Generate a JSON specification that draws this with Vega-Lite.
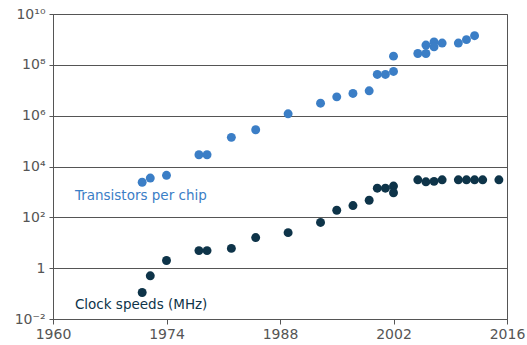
{
  "$schema": "https://vega.github.io/schema/vega-lite/v6.json",
  "autosize": {"type": "none"},
  "width": 454,
  "height": 305,
  "padding": {"left": 53, "top": 14, "right": 20, "bottom": 26},
  "background": "white",
  "config": {
    "view": {"stroke": "#555555", "strokeWidth": 1},
    "font": "DejaVu Sans"
  },
  "datasets": {
    "points": [
      {"series": "Transistors", "year": 1971, "value": 2400},
      {"series": "Transistors", "year": 1972, "value": 3500},
      {"series": "Transistors", "year": 1974, "value": 4500},
      {"series": "Transistors", "year": 1978, "value": 29000},
      {"series": "Transistors", "year": 1979, "value": 29000},
      {"series": "Transistors", "year": 1982, "value": 140000},
      {"series": "Transistors", "year": 1985, "value": 280000},
      {"series": "Transistors", "year": 1989, "value": 1180000},
      {"series": "Transistors", "year": 1993, "value": 3100000},
      {"series": "Transistors", "year": 1995, "value": 5500000},
      {"series": "Transistors", "year": 1997, "value": 7500000},
      {"series": "Transistors", "year": 1999, "value": 9500000},
      {"series": "Transistors", "year": 2000, "value": 42000000},
      {"series": "Transistors", "year": 2001, "value": 42000000},
      {"series": "Transistors", "year": 2002, "value": 55000000},
      {"series": "Transistors", "year": 2002, "value": 220000000},
      {"series": "Transistors", "year": 2005, "value": 280000000},
      {"series": "Transistors", "year": 2006, "value": 280000000},
      {"series": "Transistors", "year": 2006, "value": 600000000},
      {"series": "Transistors", "year": 2007, "value": 800000000},
      {"series": "Transistors", "year": 2007, "value": 510000000},
      {"series": "Transistors", "year": 2008, "value": 720000000},
      {"series": "Transistors", "year": 2010, "value": 720000000},
      {"series": "Transistors", "year": 2011, "value": 980000000},
      {"series": "Transistors", "year": 2012, "value": 1400000000},
      {"series": "Clock", "year": 1971, "value": 0.11},
      {"series": "Clock", "year": 1972, "value": 0.5},
      {"series": "Clock", "year": 1974, "value": 2},
      {"series": "Clock", "year": 1978, "value": 4.9},
      {"series": "Clock", "year": 1979, "value": 4.9},
      {"series": "Clock", "year": 1982, "value": 6},
      {"series": "Clock", "year": 1985, "value": 16},
      {"series": "Clock", "year": 1989, "value": 25},
      {"series": "Clock", "year": 1993, "value": 63},
      {"series": "Clock", "year": 1995, "value": 190},
      {"series": "Clock", "year": 1997, "value": 290},
      {"series": "Clock", "year": 1999, "value": 470},
      {"series": "Clock", "year": 2000, "value": 1400},
      {"series": "Clock", "year": 2001, "value": 1400},
      {"series": "Clock", "year": 2002, "value": 1700},
      {"series": "Clock", "year": 2002, "value": 930},
      {"series": "Clock", "year": 2005, "value": 3000},
      {"series": "Clock", "year": 2006, "value": 2500},
      {"series": "Clock", "year": 2007, "value": 2600},
      {"series": "Clock", "year": 2008, "value": 3000},
      {"series": "Clock", "year": 2010, "value": 3000},
      {"series": "Clock", "year": 2011, "value": 3000},
      {"series": "Clock", "year": 2012, "value": 3000},
      {"series": "Clock", "year": 2013, "value": 3000},
      {"series": "Clock", "year": 2015, "value": 3000}
    ],
    "labels": [
      {"series": "Transistors", "year": 1962.7, "value": 700, "text": "Transistors per chip"},
      {"series": "Clock", "year": 1962.7, "value": 0.035, "text": "Clock speeds (MHz)"}
    ]
  },
  "layer": [
    {
      "data": {"name": "points"},
      "mark": {"type": "circle", "size": 80, "opacity": 1},
      "encoding": {
        "x": {
          "field": "year", "type": "quantitative",
          "scale": {"domain": [1960, 2016], "nice": false, "zero": false},
          "axis": {
            "title": null, "values": [1960, 1974, 1988, 2002, 2016], "format": "d",
            "grid": false, "domainColor": "#555555", "tickColor": "#555555", "tickSize": 5,
            "labelFontSize": 14, "labelColor": "#555555", "labelPadding": 3,
            "labelFont": "DejaVu Sans", "labelFlush": false
          }
        },
        "y": {
          "field": "value", "type": "quantitative",
          "scale": {"type": "log", "domain": [0.01, 10000000000], "nice": false},
          "axis": {
            "title": null,
            "values": [0.01, 1, 100, 10000, 1000000, 100000000, 10000000000],
            "labelExpr": "datum.value == 1 ? '1' : datum.value < 1 ? '10⁻²' : datum.value < 1000 ? '10²' : datum.value < 100000 ? '10⁴' : datum.value < 10000000 ? '10⁶' : datum.value < 1000000000 ? '10⁸' : '10¹⁰'",
            "grid": true, "gridColor": "#555555", "gridOpacity": 1, "gridWidth": 1,
            "domainColor": "#555555", "tickColor": "#555555", "tickSize": 4,
            "labelFontSize": 14, "labelColor": "#555555", "labelPadding": 4,
            "labelFont": "DejaVu Sans", "labelFlush": false
          }
        },
        "color": {
          "field": "series", "type": "nominal",
          "scale": {"domain": ["Transistors", "Clock"], "range": ["#3b7ec6", "#0e3449"]},
          "legend": null
        }
      }
    },
    {
      "data": {"name": "labels"},
      "mark": {"type": "text", "align": "left", "baseline": "middle", "fontSize": 13.5, "font": "DejaVu Sans"},
      "encoding": {
        "x": {"field": "year", "type": "quantitative"},
        "y": {"field": "value", "type": "quantitative"},
        "text": {"field": "text"},
        "color": {"field": "series", "type": "nominal"}
      }
    }
  ]
}
